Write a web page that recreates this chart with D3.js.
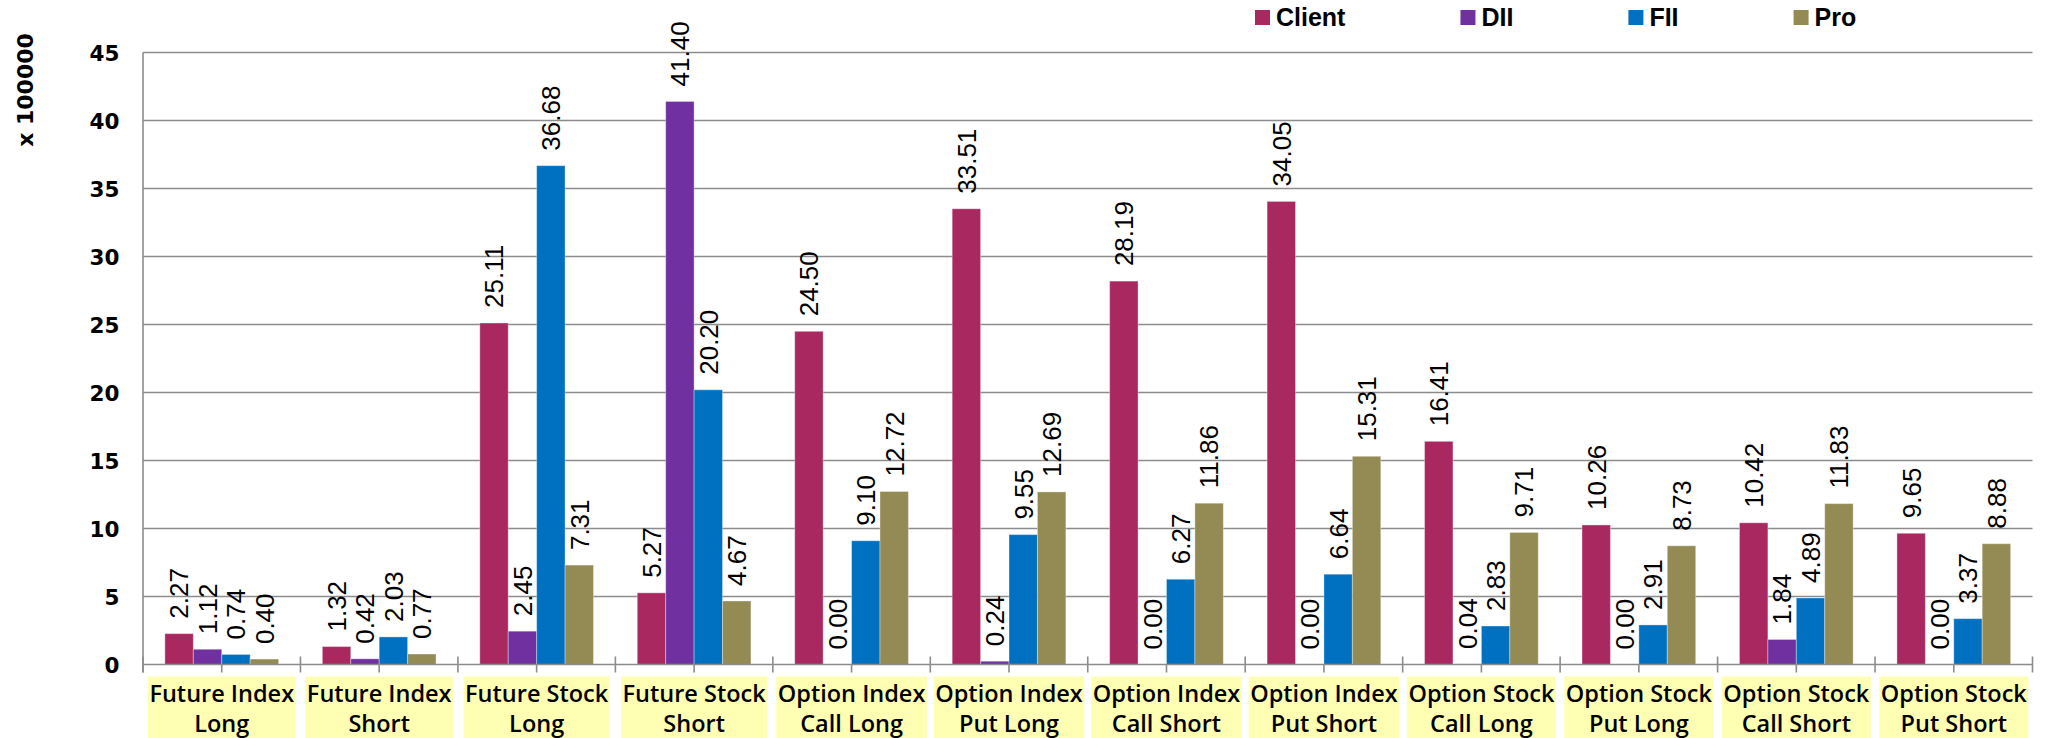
<!DOCTYPE html>
<html>
<head>
<meta charset="utf-8">
<script src="https://cdn.jsdelivr.net/npm/d3@7"></script>
<style>
  html, body { margin: 0; padding: 0; background: #ffffff; }
  svg { display: block; }
</style>
</head>
<body>
<svg id="chart" width="2045" height="738"></svg>
<script>
// ---------- DATA ----------
const categories = [
  ["Future Index", "Long"],
  ["Future Index", "Short"],
  ["Future Stock", "Long"],
  ["Future Stock", "Short"],
  ["Option Index", "Call Long"],
  ["Option Index", "Put Long"],
  ["Option Index", "Call Short"],
  ["Option Index", "Put Short"],
  ["Option Stock", "Call Long"],
  ["Option Stock", "Put Long"],
  ["Option Stock", "Call Short"],
  ["Option Stock", "Put Short"]
];
const seriesNames = ["Client", "DII", "FII", "Pro"];
const clientValues = [2.27, 1.32, 25.11, 5.27, 24.50, 33.51, 28.19, 34.05, 16.41, 10.26, 10.42, 9.65];
const diiValues    = [1.12, 0.42, 2.45, 41.40, 0.00, 0.24, 0.00, 0.00, 0.04, 0.00, 1.84, 0.00];
const fiiValues    = [0.74, 2.03, 36.68, 20.20, 9.10, 9.55, 6.27, 6.64, 2.83, 2.91, 4.89, 3.37];
const proValues    = [0.40, 0.77, 7.31, 4.67, 12.72, 12.69, 11.86, 15.31, 9.71, 8.73, 11.83, 8.88];
const yTicks = [0, 5, 10, 15, 20, 25, 30, 35, 40, 45];
const yAxisTitle = "x 100000";
const seriesColors = ["#AA2860", "#7030A0", "#0070C0", "#948A54"];

// ---------- LAYOUT ----------
const svg = d3.select("#chart");
const plot = { left: 143, right: 2032.5, top: 52.5, bottom: 664.5 };
const gridColor = "#8c8c8c";
const values = [clientValues, diiValues, fiiValues, proValues];
const catKeys = categories.map((c, i) => i);

const x0 = d3.scaleBand().domain(catKeys).range([plot.left, plot.right]).paddingInner(0).paddingOuter(0);
const x1 = d3.scaleBand().domain(seriesNames).range([0, x0.bandwidth()]).paddingInner(0).paddingOuter(0.77);
const y = d3.scaleLinear().domain([0, 45]).range([plot.bottom, plot.top]);

// gridlines
svg.append("g").selectAll("line").data(yTicks.filter(d => d > 0)).join("line")
  .attr("x1", plot.left).attr("x2", plot.right)
  .attr("y1", d => y(d)).attr("y2", d => y(d))
  .attr("stroke", gridColor).attr("stroke-width", 1.6);

// x axis ticks (category boundaries and centers)
const boundaries = catKeys.map(k => x0(k)).concat([plot.right]);
svg.append("g").selectAll("line").data(boundaries).join("line")
  .attr("x1", d => d).attr("x2", d => d)
  .attr("y1", plot.bottom - 8).attr("y2", plot.bottom + 8)
  .attr("stroke", gridColor).attr("stroke-width", 1.6);
svg.append("g").selectAll("line").data(catKeys).join("line")
  .attr("x1", d => x0(d) + x0.bandwidth() / 2).attr("x2", d => x0(d) + x0.bandwidth() / 2)
  .attr("y1", plot.bottom).attr("y2", plot.bottom + 8)
  .attr("stroke", gridColor).attr("stroke-width", 1.6);

// bars
const barData = [];
catKeys.forEach(k => seriesNames.forEach((s, si) => barData.push({ k, s, si, v: values[si][k] })));

svg.append("g").selectAll("rect").data(barData).join("rect")
  .attr("x", d => x0(d.k) + x1(d.s))
  .attr("width", x1.bandwidth())
  .attr("y", d => y(d.v))
  .attr("height", d => y(0) - y(d.v))
  .attr("fill", d => seriesColors[d.si])
  .attr("stroke", "rgba(255,255,255,0.35)")
  .attr("stroke-width", 1);

// axes lines
svg.append("line")
  .attr("x1", plot.left).attr("x2", plot.right)
  .attr("y1", plot.bottom).attr("y2", plot.bottom)
  .attr("stroke", gridColor).attr("stroke-width", 1.6);
svg.append("line")
  .attr("x1", plot.left).attr("x2", plot.left)
  .attr("y1", plot.top).attr("y2", plot.bottom + 8)
  .attr("stroke", gridColor).attr("stroke-width", 1.6);

// data labels
svg.append("g").selectAll("text").data(barData).join("text")
  .attr("transform", d => `translate(${x0(d.k) + x1(d.s) + x1.bandwidth() / 2},${y(d.v) - 15}) rotate(-90)`)
  .attr("dy", "0.36em")
  .attr("text-anchor", "start")
  .attr("font-family", "'Liberation Sans', Arial, sans-serif")
  .attr("font-size", 26)
  .attr("fill", "#000")
  .text(d => d.v.toFixed(2));

// y tick labels
svg.append("g").selectAll("text").data(yTicks).join("text")
  .attr("x", 119.5).attr("y", d => y(d))
  .attr("dy", "0.38em")
  .attr("text-anchor", "end")
  .attr("font-family", "'DejaVu Sans', sans-serif")
  .attr("font-weight", "bold")
  .attr("font-size", 21.5)
  .attr("fill", "#000")
  .text(d => d);

// y axis title
svg.append("text")
  .attr("transform", "translate(25.5,90) rotate(-90)")
  .attr("dy", "0.36em")
  .attr("text-anchor", "middle")
  .attr("font-family", "'DejaVu Sans', sans-serif")
  .attr("font-weight", "bold")
  .attr("font-size", 22)
  .attr("fill", "#000")
  .text(yAxisTitle);

// category labels with yellow background boxes
const catG = svg.append("g").selectAll("g").data(catKeys).join("g")
  .attr("transform", d => `translate(${x0(d) + x0.bandwidth() / 2},0)`);
catG.each(function(k) {
  const g = d3.select(this);
  const bg = g.append("rect");
  const t = g.append("text")
    .attr("text-anchor", "middle")
    .attr("font-family", "'Open Sans', sans-serif")
    .attr("font-weight", 600)
    .attr("font-size", 23.5)
    .attr("fill", "#000");
  const lines = categories[k];
  const spans = lines.map((ln, i) => t.append("tspan").attr("x", 0).attr("y", 702 + i * 30).text(ln));
  const w = d3.max(spans, s => s.node().getComputedTextLength());
  bg.attr("x", -w / 2 - 1.5).attr("width", w + 3)
    .attr("y", 676.5).attr("height", 70)
    .attr("fill", "#FFFFB3");
});

// legend
const legend = svg.append("g");
let lx = 1255;
seriesNames.forEach((s, i) => {
  legend.append("rect").attr("x", lx).attr("y", 10).attr("width", 15).attr("height", 15)
    .attr("fill", seriesColors[i]);
  const t = legend.append("text").attr("x", lx + 21).attr("y", 26)
    .attr("font-family", "'Liberation Sans', Arial, sans-serif")
    .attr("font-weight", "bold")
    .attr("font-size", 25)
    .attr("fill", "#000")
    .text(s);
  lx += 21 + t.node().getComputedTextLength() + 115;
});
</script>
</body>
</html>
